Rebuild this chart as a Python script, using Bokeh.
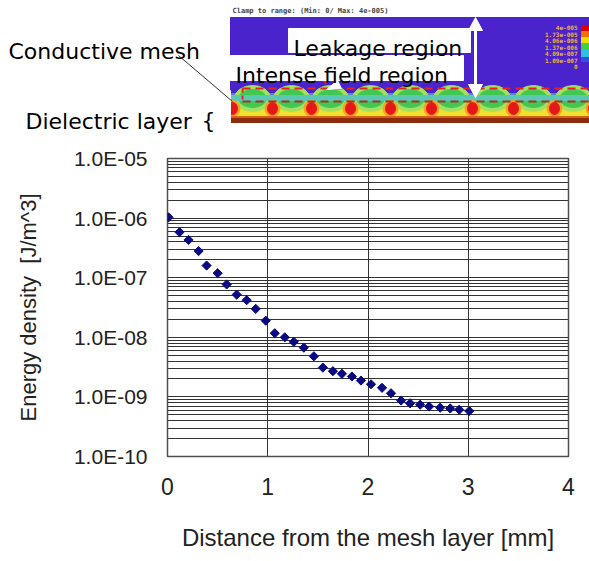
from bokeh.plotting import figure
from bokeh.layouts import column
from bokeh.models import Range1d, FixedTicker, CustomJSTickFormatter, ColumnDataSource
from bokeh.core.properties import value
from bokeh.embed import file_html
from bokeh.resources import INLINE

# ---------------- data ----------------
distance_mm = [0.01, 0.12, 0.21, 0.31, 0.39, 0.50, 0.59, 0.69, 0.79, 0.88, 0.98,
               1.07, 1.17, 1.26, 1.36, 1.46, 1.55, 1.65, 1.74, 1.84, 1.93,
               2.03, 2.14, 2.23, 2.33, 2.42, 2.52, 2.61, 2.72, 2.82, 2.91, 3.01]
energy_density = [1.03e-6, 5.8e-7, 4.3e-7, 2.8e-7, 1.6e-7, 1.19e-7, 7.7e-8, 5.2e-8,
                  4.2e-8, 3.0e-8, 1.9e-8, 1.17e-8, 1.0e-8, 8.4e-9, 6.7e-9, 4.8e-9,
                  3.1e-9, 2.7e-9, 2.44e-9, 2.2e-9, 1.88e-9, 1.63e-9, 1.42e-9, 1.15e-9,
                  8.7e-10, 7.8e-10, 7.4e-10, 6.9e-10, 6.6e-10, 6.4e-10, 6.1e-10, 5.8e-10]
x_ticks = [0, 1, 2, 3, 4]
y_ticks = [1e-10, 1e-9, 1e-8, 1e-7, 1e-6, 1e-5]
y_tick_labels = ["1.0E-10", "1.0E-09", "1.0E-08", "1.0E-07", "1.0E-06", "1.0E-05"]
y_minor = [m * d for d in [1e-10, 1e-9, 1e-8, 1e-7, 1e-6] for m in [2, 3, 4, 5, 6, 7, 8, 9]]
colorbar_labels = ["4e-005", "1.73e-005", "4.06e-006", "1.37e-006", "4.09e-007", "1.09e-007", "0"]

LABEL_FONT = "DejaVu Sans"
AXIS_FONT = "Liberation Sans"
NB = "\u00a0"

# ---------------- top illustration (pixel coordinates) ----------------
top = figure(width=589, height=140, x_range=Range1d(0, 589), y_range=Range1d(140, 0),
             output_backend="svg", toolbar_location=None, min_border=0, frame_align=False)
top.axis.visible = False
top.grid.visible = False
top.outline_line_color = None

# background field (blue)
top.quad(left=230, right=589, top=17, bottom=93, color="#4B23CD")
top.quad(left=230, right=589, top=93, bottom=97, color="#4F86D8")
top.quad(left=230, right=589, top=97, bottom=117, color="#F2E030")
blob_x = [232, 272, 311, 350, 390, 431, 472, 513, 554, 593]
dome_x = [252, 291, 330, 370, 410, 451, 492, 533, 573]
top.ellipse(x=dome_x, y=[98] * len(dome_x), width=36, height=26, color="#A6E060")
top.ellipse(x=dome_x, y=[98] * len(dome_x), width=28, height=18, color="#42C852")
top.quad(left=230, right=589, top=95, bottom=100, color="#5CC8B4")
top.ellipse(x=blob_x, y=[108] * len(blob_x), width=15, height=16, color="#F7A020")
top.ellipse(x=blob_x, y=[108] * len(blob_x), width=10, height=12, color="#E41818")
top.quad(left=230, right=589, top=116, bottom=118, color="#D86018")
top.quad(left=230, right=589, top=118, bottom=122, color="#8C2C0C")
top.quad(left=210, right=230, top=90, bottom=126, color="white")

# dashed region lines
top.segment(x0=242, y0=88, x1=589, y1=88, line_color="#E82020", line_width=2, line_dash="8 5")
top.segment(x0=242, y0=101, x1=589, y1=101, line_color="#A83020", line_width=2, line_dash="8 5")
top.segment(x0=242, y0=88, x1=242, y1=101, line_color="#E82020", line_width=2, line_dash="4 3")

# white double arrow
top.segment(x0=475, y0=24, x1=475, y1=90, line_color="white", line_width=3)
top.patches(xs=[[475, 468, 482], [475, 468, 482]], ys=[[17, 30, 30], [97, 84, 84]],
            color="white")
# small pointer
top.patches(xs=[[326, 337, 341]], ys=[[89, 80, 88]], color="white")
top.segment(x0=321, y0=77, x1=326, y1=83, line_color="#E82020", line_width=2)

# colour bar
cb_cols = ["#E00000", "#F07000", "#F0E000", "#40D040", "#30C0E0", "#3050E0", "#4B23CD"]
cb_edges = [25, 31, 37, 43, 50, 57, 62, 68]
top.quad(left=[581] * 7, right=[589] * 7, top=cb_edges[:-1], bottom=cb_edges[1:], color=cb_cols)
top.text(x=[577] * 7, y=[27, 33.5, 40, 46.5, 53, 59.5, 66], text=colorbar_labels,
         text_align="right", text_baseline="middle", text_font=value("DejaVu Sans Mono"),
         text_font_size="6px", text_font_style="bold", text_color="#F0B040")

# caption above the image
top.text(x=[232], y=[10], text=["Clamp to range: (Min: 0/ Max: 4e-005)"],
         text_align="left", text_baseline="middle", text_font=value("DejaVu Sans Mono"),
         text_font_size="7px", text_font_style="bold", text_color="#444444")

# label boxes
top.quad(left=288, right=470, top=28, bottom=52, color="white")
top.quad(left=230, right=463, top=55, bottom=80, color="white")
top.text(x=[293], y=[48], text=["Leakage region"], text_align="left",
         text_baseline="alphabetic", text_font=value(LABEL_FONT), text_font_size="22px",
         text_color="black")
top.text(x=[235], y=[75], text=["Intense field region"], text_align="left",
         text_baseline="alphabetic", text_font=value(LABEL_FONT), text_font_size="22px",
         text_color="black")

# left annotations
top.text(x=[8], y=[51], text=["Conductive mesh"], text_align="left",
         text_baseline="alphabetic", text_font=value(LABEL_FONT), text_font_size="22px",
         text_color="black")
top.text(x=[25], y=[121], text=["Dielectric layer"], text_align="left",
         text_baseline="alphabetic", text_font=value(LABEL_FONT), text_font_size="22px",
         text_color="black")
top.text(x=[201], y=[120], text=["{"], text_align="left",
         text_baseline="alphabetic", text_font=value(LABEL_FONT), text_font_size="22px",
         text_color="black")
top.segment(x0=178, y0=55, x1=232, y1=101, line_color="#333333", line_width=1)

# ---------------- main log chart ----------------
p = figure(width=589, height=421, x_range=Range1d(0, 4), y_range=Range1d(1e-10, 1e-5),
           y_axis_type="log", output_backend="svg", toolbar_location=None, frame_align=False,
           min_border_left=167, min_border_right=21, min_border_top=18, min_border_bottom=105)

src = ColumnDataSource(dict(x=distance_mm, y=energy_density))
p.scatter(x="x", y="y", source=src, marker="square", angle=0.785398, size=6.5,
          fill_color="#0A0A80", line_color="#0A0A80")

p.xaxis.ticker = FixedTicker(ticks=x_ticks)
p.yaxis.ticker = FixedTicker(ticks=y_ticks, minor_ticks=y_minor)
p.yaxis.formatter = CustomJSTickFormatter(
    args=dict(tvals=y_ticks, tlabels=y_tick_labels),
    code="""
    for (let i = 0; i < tvals.length; i++) {
        if (Math.abs(Math.log10(tvals[i]) - Math.log10(tick)) < 1e-6) return tlabels[i];
    }
    return "";
    """)

p.xgrid.ticker = FixedTicker(ticks=x_ticks)
p.ygrid.ticker = FixedTicker(ticks=y_ticks, minor_ticks=y_minor)
p.grid.grid_line_color = "#333333"
p.grid.grid_line_width = 1
p.ygrid.minor_grid_line_color = "#333333"
p.ygrid.minor_grid_line_width = 1
p.outline_line_color = "#505050"
p.outline_line_width = 1.5

for ax in (p.xaxis[0], p.yaxis[0]):
    ax.axis_line_color = None
    ax.major_tick_line_color = None
    ax.minor_tick_line_color = None
    ax.major_tick_out = 0
    ax.major_tick_in = 0
    ax.minor_tick_out = 0
    ax.minor_tick_in = 0
    ax.major_label_text_font = AXIS_FONT
    ax.major_label_text_color = "#222222"
    ax.axis_label_text_font = AXIS_FONT
    ax.axis_label_text_font_style = "normal"
    ax.axis_label_text_color = "#222222"

p.xaxis.major_label_text_font_size = "23px"
p.xaxis.major_label_standoff = 21
p.xaxis.axis_label = "Distance from the mesh layer [mm]"
p.xaxis.axis_label_text_font_size = "24px"
p.xaxis.axis_label_standoff = 26

p.yaxis.major_label_text_font_size = "21px"
p.yaxis.major_label_standoff = 20
p.yaxis.axis_label = "Energy density" + NB * 2 + "[J/m^3]"
p.yaxis.axis_label_text_font_size = "22px"
p.yaxis.axis_label_standoff = 30

layout = column(top, p, spacing=0)
open("out.html", "w").write(file_html(layout, INLINE))
